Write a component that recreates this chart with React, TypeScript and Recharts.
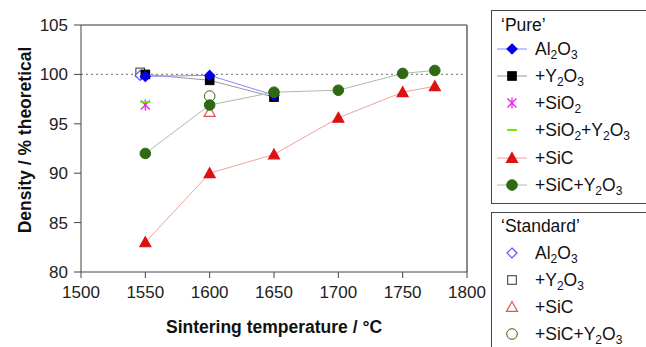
import React from "react";
import { ComposedChart, Line, XAxis, YAxis, ReferenceLine, Customized } from "recharts";

// Pure series
const al2o3X = [1550, 1600, 1650];
const al2o3Y = [99.8, 99.9, 97.9];
const y2o3X = [1550, 1600, 1650];
const y2o3Y = [100.0, 99.4, 97.7];
const sio2X = [1550];
const sio2Y = [96.9];
const sio2y2o3X = [1550];
const sio2y2o3Y = [97.2];
const sicX = [1550, 1600, 1650, 1700, 1750, 1775];
const sicY = [83.0, 90.0, 91.9, 95.6, 98.2, 98.8];
const sicy2o3X = [1550, 1600, 1650, 1700, 1750, 1775];
const sicy2o3Y = [92.0, 96.9, 98.2, 98.4, 100.1, 100.4];
// Standard series
const stdAl2o3X = [1546];
const stdAl2o3Y = [99.9];
const stdY2o3X = [1546];
const stdY2o3Y = [100.2];
const stdSicX = [1600];
const stdSicY = [96.2];
const stdSicY2o3X = [1600];
const stdSicY2o3Y = [97.8];

const xTicks = [1500, 1550, 1600, 1650, 1700, 1750, 1800];
const yTicks = [80, 85, 90, 95, 100, 105];

const zip = (xs: number[], ys: number[]) => xs.map((x, i) => ({ x, y: ys[i] }));

const FONT = "'Liberation Sans', Arial, sans-serif";

const CHART_W = 495;
const CHART_H = 347;
const M_TOP = 25;
const M_RIGHT = 28;
const Y_W = 81;
const X_H = 75;

type MP = { cx?: number; cy?: number; index?: number };

const diamond = (fill: string, stroke: string) => (p: MP) => {
  const { cx = 0, cy = 0 } = p;
  const s = 5;
  return (
    <path key={p.index} d={`M${cx},${cy - s}L${cx + s},${cy}L${cx},${cy + s}L${cx - s},${cy}Z`} fill={fill} stroke={stroke} strokeWidth={1.2} />
  );
};
const square = (fill: string, stroke: string) => (p: MP) => {
  const { cx = 0, cy = 0 } = p;
  const s = 4.3;
  return <rect key={p.index} x={cx - s} y={cy - s} width={2 * s} height={2 * s} fill={fill} stroke={stroke} strokeWidth={1} />;
};
const triangle = (fill: string, stroke: string) => (p: MP) => {
  const { cx = 0, cy = 0 } = p;
  const s = 5.5;
  return <path key={p.index} d={`M${cx},${cy - s}L${cx + s},${cy + s * 0.8}L${cx - s},${cy + s * 0.8}Z`} fill={fill} stroke={stroke} strokeWidth={1.2} />;
};
const circle = (fill: string, stroke: string) => (p: MP) => {
  const { cx = 0, cy = 0 } = p;
  return <circle key={p.index} cx={cx} cy={cy} r={5.3} fill={fill} stroke={stroke} strokeWidth={1} />;
};
const asterisk = (p: MP) => {
  const { cx = 0, cy = 0 } = p;
  const s = 4.5;
  return (
    <g key={p.index} stroke="#ee22ee" strokeWidth={1.3}>
      <line x1={cx - s} y1={cy - s} x2={cx + s} y2={cy + s} />
      <line x1={cx - s} y1={cy + s} x2={cx + s} y2={cy - s} />
      <line x1={cx} y1={cy - s - 1} x2={cx} y2={cy + s + 1} />
    </g>
  );
};
const dash = (p: MP) => {
  const { cx = 0, cy = 0 } = p;
  return <line key={p.index} x1={cx - 5} y1={cy} x2={cx + 5} y2={cy} stroke="#66ee00" strokeWidth={2} />;
};

const BLUE = "#0000ee";
const BLUE_LINE = "#8888ff";
const BLACK_LINE = "#999999";
const RED = "#dd1111";
const RED_LINE = "#f2a0a0";
const GREEN = "#2f6a12";
const GREEN_LINE = "#a9bfa3";

const Frame = () => {
  const left = Y_W;
  const top = M_TOP;
  const width = CHART_W - Y_W - M_RIGHT;
  const height = CHART_H - M_TOP - X_H;
  return (
    <g>
      <line x1={left} y1={top} x2={left + width} y2={top} stroke="#777" strokeWidth={1.5} />
      <line x1={left + width} y1={top} x2={left + width} y2={top + height} stroke="#888" strokeWidth={2} />
    </g>
  );
};

const Sub = ({ t }: { t: string }) => (
  <tspan fontSize={12} dy={4}>{t}</tspan>
);
const Up = ({ t }: { t: string }) => <tspan dy={-4}>{t}</tspan>;

const LegendEntry = ({ y, marker, line, children }: { y: number; marker: React.ReactNode; line?: string; children: React.ReactNode }) => (
  <g>
    {line && <line x1={497} y1={y} x2={527} y2={y} stroke={line} strokeWidth={1} />}
    {marker}
    <text x={535} y={y + 6} fontSize={17.5} fill="#111" fontFamily={FONT}>
      {children}
    </text>
  </g>
);

const TICK_STYLE = { fontSize: 17, fill: "#222", fontFamily: FONT };
const LABEL_STYLE = { fontSize: 17.5, fontWeight: "bold", fill: "#111", fontFamily: FONT };

const YLabel = () => (
  <text x={31} y={140} transform="rotate(-90 31 140)" textAnchor="middle" style={LABEL_STYLE as any}>
    Density / % theoretical
  </text>
);

export default function App() {
  return (
    <div style={{ position: "absolute", left: 0, top: 0, width: 646, height: 347, background: "#fff", fontFamily: FONT, overflow: "hidden" }}>
      <div style={{ position: "absolute", left: 0, top: 0 }}>
        <ComposedChart width={CHART_W} height={CHART_H} margin={{ top: M_TOP, right: M_RIGHT, bottom: 0, left: 0 }}>
          <XAxis
            type="number"
            dataKey="x"
            domain={[1500, 1800]}
            ticks={xTicks}
            allowDataOverflow
            stroke="#444"
            tickSize={6}
            tickMargin={8}
            tick={TICK_STYLE}
            height={X_H}
            label={{ value: "Sintering temperature / °C", position: "insideBottom", offset: 14, style: LABEL_STYLE }}
          />
          <YAxis
            type="number"
            dataKey="y"
            domain={[80, 105]}
            ticks={yTicks}
            allowDataOverflow
            stroke="#444"
            width={Y_W}
            tickSize={7}
            tickMargin={6}
            tick={TICK_STYLE}
            label={{ content: YLabel }}
          />
          <ReferenceLine y={100} stroke="#888" strokeDasharray="2 3" strokeWidth={1.2} />
          <Customized component={Frame} />
          <Line data={zip(stdY2o3X, stdY2o3Y)} dataKey="y" stroke="none" dot={square("#fff", "#333")} isAnimationActive={false} />
          <Line data={zip(stdAl2o3X, stdAl2o3Y)} dataKey="y" stroke="none" dot={diamond("#fff", "#5555ff")} isAnimationActive={false} />
          <Line data={zip(stdSicY2o3X, stdSicY2o3Y)} dataKey="y" stroke="none" dot={circle("#fff", GREEN)} isAnimationActive={false} />
          <Line data={zip(stdSicX, stdSicY)} dataKey="y" stroke="none" dot={triangle("#fff", "#e05555")} isAnimationActive={false} />
          <Line data={zip(y2o3X, y2o3Y)} dataKey="y" stroke={BLACK_LINE} strokeWidth={1} dot={square("#000", "#000")} isAnimationActive={false} />
          <Line data={zip(al2o3X, al2o3Y)} dataKey="y" stroke={BLUE_LINE} strokeWidth={1} dot={diamond(BLUE, BLUE)} isAnimationActive={false} />
          <Line data={zip(sio2X, sio2Y)} dataKey="y" stroke="none" dot={asterisk} isAnimationActive={false} />
          <Line data={zip(sio2y2o3X, sio2y2o3Y)} dataKey="y" stroke="none" dot={dash} isAnimationActive={false} />
          <Line data={zip(sicX, sicY)} dataKey="y" stroke={RED_LINE} strokeWidth={1} dot={triangle(RED, RED)} isAnimationActive={false} />
          <Line data={zip(sicy2o3X, sicy2o3Y)} dataKey="y" stroke={GREEN_LINE} strokeWidth={1} dot={circle(GREEN, GREEN)} isAnimationActive={false} />
        </ComposedChart>
      </div>
      <svg width={646} height={347} style={{ position: "absolute", left: 0, top: 0 }}>
        <rect x={491.5} y={10.5} width={170} height={193} fill="#fff" stroke="#444" strokeWidth={1} />
        <rect x={491.5} y={212.5} width={170} height={150} fill="#fff" stroke="#444" strokeWidth={1} />
        <text x={501} y={31} fontSize={17.5} fill="#111" fontFamily={FONT}>‘Pure’</text>
        <LegendEntry y={49} line={BLUE_LINE} marker={diamond(BLUE, BLUE)({ cx: 512, cy: 49 })}>
          Al<Sub t="2" /><Up t="O" /><Sub t="3" />
        </LegendEntry>
        <LegendEntry y={76} line={BLACK_LINE} marker={square("#000", "#000")({ cx: 512, cy: 76 })}>
          +Y<Sub t="2" /><Up t="O" /><Sub t="3" />
        </LegendEntry>
        <LegendEntry y={103} marker={asterisk({ cx: 512, cy: 103 })}>
          +SiO<Sub t="2" />
        </LegendEntry>
        <LegendEntry y={130} marker={dash({ cx: 512, cy: 130 })}>
          +SiO<Sub t="2" /><Up t="+Y" /><Sub t="2" /><Up t="O" /><Sub t="3" />
        </LegendEntry>
        <LegendEntry y={158} line={RED_LINE} marker={triangle(RED, RED)({ cx: 512, cy: 158 })}>
          +SiC
        </LegendEntry>
        <LegendEntry y={185} line={GREEN_LINE} marker={circle(GREEN, GREEN)({ cx: 512, cy: 185 })}>
          +SiC+Y<Sub t="2" /><Up t="O" /><Sub t="3" />
        </LegendEntry>
        <text x={501} y={232} fontSize={17.5} fill="#111" fontFamily={FONT}>‘Standard’</text>
        <LegendEntry y={253} marker={diamond("#fff", "#5555ff")({ cx: 512, cy: 253 })}>
          Al<Sub t="2" /><Up t="O" /><Sub t="3" />
        </LegendEntry>
        <LegendEntry y={280} marker={square("#fff", "#333")({ cx: 512, cy: 280 })}>
          +Y<Sub t="2" /><Up t="O" /><Sub t="3" />
        </LegendEntry>
        <LegendEntry y={307} marker={triangle("#fff", "#e05555")({ cx: 512, cy: 307 })}>
          +SiC
        </LegendEntry>
        <LegendEntry y={334} marker={circle("#fff", GREEN)({ cx: 512, cy: 334 })}>
          +SiC+Y<Sub t="2" /><Up t="O" /><Sub t="3" />
        </LegendEntry>
      </svg>
    </div>
  );
}
